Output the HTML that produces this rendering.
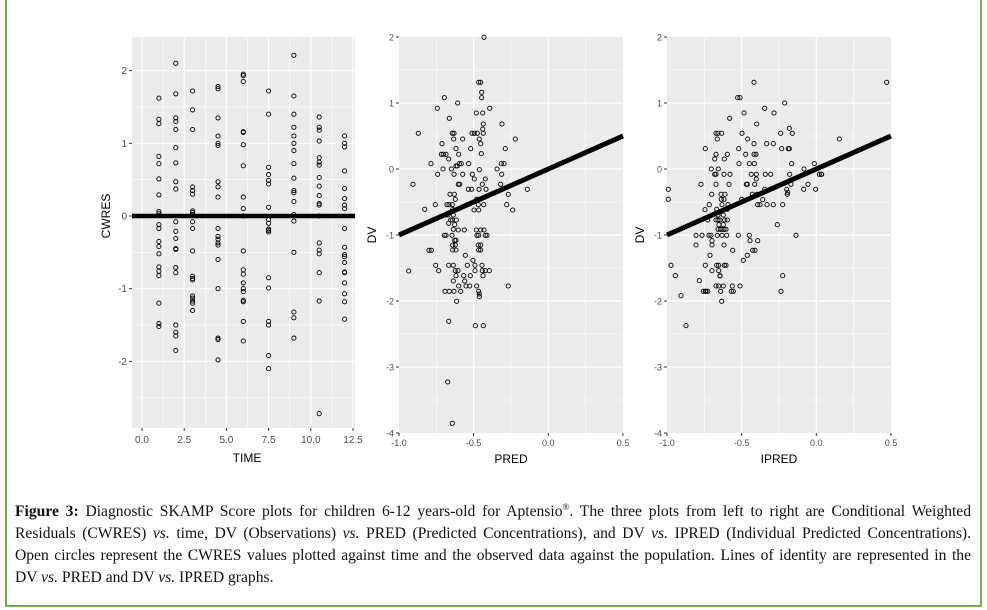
<!DOCTYPE html>
<html><head><meta charset="utf-8"><style>
body{margin:0;background:#fff;width:987px;height:610px;overflow:hidden;position:relative}
#frame{position:absolute;left:5px;top:0px;width:977px;height:607px;border:2px solid #7aab4a;border-top:none;box-sizing:border-box}
#cap{position:absolute;left:15px;top:496px;width:956px;font-family:"Liberation Serif",serif;font-size:15.6px;line-height:22px;color:#111}
#cap div{text-align:justify;text-align-last:justify;white-space:nowrap}
#cap div.l{text-align-last:left}
svg{position:absolute;left:0;top:0}
</style></head><body>
<div id="frame"></div>
<svg id="s" width="987" height="480" font-family="Liberation Sans, sans-serif"></svg>
<div id="cap">
<div><b>Figure 3:</b> Diagnostic SKAMP Score plots for children 6-12 years-old for Aptensio<sup style="font-size:9px">®</sup>. The three plots from left to right are Conditional Weighted</div>
<div>Residuals (CWRES) <i>vs.</i> time, DV (Observations) <i>vs.</i> PRED (Predicted Concentrations), and DV <i>vs.</i> IPRED (Individual Predicted Concentrations).</div>
<div>Open circles represent the CWRES values plotted against time and the observed data against the population. Lines of identity are represented in the</div>
<div class="l">DV <i>vs.</i> PRED and DV <i>vs.</i> IPRED graphs.</div>
</div>
<script>
var s=document.getElementById('s'),h='';
function R(x,y,w,hh,f){h+='<rect x="'+x+'" y="'+y+'" width="'+w+'" height="'+hh+'" fill="'+f+'"/>';}
function L(x1,y1,x2,y2,c,w){h+='<line x1="'+x1+'" y1="'+y1+'" x2="'+x2+'" y2="'+y2+'" stroke="'+c+'" stroke-width="'+w+'"/>';}
function T(x,y,t,a,sz,c,rot){h+='<text x="'+x+'" y="'+y+'" text-anchor="'+a+'" font-size="'+sz+'" fill="'+c+'"'+(rot?' transform="rotate(-90 '+x+' '+y+')"':'')+'>'+t+'</text>';}
function C(x,y){h+='<circle cx="'+x.toFixed(1)+'" cy="'+y.toFixed(1)+'" r="2.1" fill="none" stroke="#000" stroke-width="0.9"/>';}
var X1=function(t){return 142+16.88*t},Y1=function(v){return 216-72.7*v};
R(132,37,223,391,'#ebebeb');
for(var t=-1.25;t<=13;t+=1.25){var x=X1(t);if(x>132&&x<355)L(x,37,x,428,'#fff',(Math.abs(t/2.5-Math.round(t/2.5))<0.01)?1.2:0.6);}
for(var v=-2.5;v<=2.5;v+=0.5){var y=Y1(v);if(y>37&&y<428)L(132,y,355,y,'#fff',(v%1==0)?1.2:0.6);}
[-2,-1,0,1,2].forEach(function(v){T(127,Y1(v)+3.5,v,'end',10,'#4d4d4d');L(129,Y1(v),132,Y1(v),'#333',1);});
['0.0','2.5','5.0','7.5','10.0','12.5'].forEach(function(l,i){var x=X1(i*2.5);T(x,443,l,'middle',10,'#4d4d4d');L(x,428,x,431,'#333',1);});
T(247,462,'TIME','middle',12,'#000');T(110,216,'CWRES','middle',12,'#000',1);
var d1={1:[1.62,1.33,1.27,0.82,0.72,0.51,0.29,0.06,0.03,-0.12,-0.17,-0.35,-0.42,-0.52,-0.7,-0.76,-0.82,-1.2,-1.48,-1.52],
2:[2.1,1.68,1.35,1.3,1.19,0.94,0.73,0.47,0.37,-0.08,-0.21,-0.31,-0.45,-0.46,-0.71,-0.78,-1.5,-1.6,-1.65,-1.85],
3:[1.72,1.46,1.19,0.4,0.35,0.3,0.07,0.05,0.02,-0.08,-0.17,-0.48,-0.83,-0.86,-0.88,-1.1,-1.13,-1.17,-1.2,-1.3],
4.5:[1.78,1.75,1.35,1.1,1.0,0.97,0.47,0.4,0.26,-0.17,-0.28,-0.32,-0.37,-0.4,-0.6,-1.0,-1.68,-1.7,-1.98],
6:[1.95,1.93,1.85,1.16,1.15,0.98,0.69,0.26,0.1,0,-0.48,-0.74,-0.8,-0.92,-1.0,-1.04,-1.16,-1.18,-1.45,-1.72],
7.5:[1.72,1.4,0.67,0.57,0.49,0.44,0.12,-0.05,-0.1,-0.18,-0.2,-0.22,-0.85,-0.99,-1.45,-1.5,-1.92,-2.1],
9:[2.21,1.65,1.4,1.22,1.1,1.0,0.9,0.72,0.52,0.35,0.32,0.2,0.02,-0.07,-0.5,-1.32,-1.4,-1.68],
10.5:[1.36,1.22,1.18,1.03,0.8,0.74,0.7,0.53,0.41,0.28,0.17,0.15,0,-0.37,-0.47,-0.52,-0.78,-1.17,-2.72],
12:[1.1,1.0,0.95,0.62,0.38,0.24,0.15,0.1,-0.17,-0.43,-0.53,-0.56,-0.64,-0.77,-0.78,-0.92,-1.07,-1.18,-1.42]};
for(var k in d1)d1[k].forEach(function(v){C(X1(+k),Y1(v));});
L(132,216,355,216,'#000',4.5);
function panel(x0,bx,title,pts){
 var X=function(u){return x0+149.3*(u+1)},Y=function(v){return 37+66*(2-v)};
 R(x0,37,224,396,'#ebebeb');
 for(var u=-0.75;u<0.5;u+=0.25){L(X(u),37,X(u),433,'#fff',(Math.abs(u*2-Math.round(u*2))<0.01)?1.2:0.6);}
 for(var v=-3.5;v<2;v+=0.5){L(x0,Y(v),x0+224,Y(v),'#fff',(v%1==0)?1.2:0.6);}
 [-4,-3,-2,-1,0,1,2].forEach(function(v){T(x0-5,Y(v)+3.5,v,'end',9,'#4d4d4d');L(x0-3,Y(v),x0,Y(v),'#333',1);});
 ['-1.0','-0.5','0.0','0.5'].forEach(function(l,i){var x=X(-1+i*0.5);T(x,446,l,'middle',9,'#4d4d4d');L(x,433,x,436,'#333',1);});
 T(x0+112,463,title,'middle',12,'#000');T(x0-23,235,'DV','middle',12,'#000',1);
 pts.forEach(function(p){C(bx+p[0]/3,30+p[1]/3);});
 L(X(-1),Y(-1),X(0.5),Y(0.5),'#000',5);
}
var p2=[[372,22],[356,157],[362,157],[365,187],[365,203],[253,203],[232,235],[293,219],[389,235],[349,249],[368,249],[268,265],[370,282],[368,297],[175,310],[277,310],[282,310],[336,310],[343,310],[352,310],[370,310],[426,282],[281,327],[308,327],[358,327],[466,327],[246,341],[362,341],[332,356],[288,356],[436,356],[244,373],[250,373],[258,373],[296,373],[266,387],[364,371],[213,401],[298,401],[304,401],[326,401],[424,401],[432,401],[249,417],[274,417],[233,433],[282,433],[308,433],[337,433],[358,419],[411,417],[376,447],[425,433],[159,463],[295,463],[299,463],[343,447],[367,463],[292,408],[288,408],[422,463],[325,478],[335,478],[357,478],[378,478],[502,478],[270,493],[283,493],[286,508],[350,508],[360,508],[445,493],[226,524],[261,524],[267,524],[277,524],[355,524],[440,524],[371,524],[278,539],[194,538],[257,555],[264,555],[280,555],[356,540],[342,540],[458,540],[272,570],[277,570],[289,570],[266,580],[284,584],[280,598],[313,600],[295,600],[349,600],[362,600],[372,600],[253,616],[258,616],[276,616],[351,616],[356,616],[376,616],[381,616],[284,631],[288,631],[278,645],[286,645],[355,645],[362,645],[278,660],[288,660],[356,660],[362,660],[207,661],[214,661],[316,676],[266,706],[280,706],[227,706],[322,706],[339,691],[345,706],[366,706],[286,722],[294,722],[236,722],[146,723],[345,722],[367,722],[376,722],[388,722],[331,737],[369,737],[288,737],[311,737],[280,753],[314,753],[296,768],[318,768],[329,768],[350,768],[255,784],[268,784],[282,784],[302,784],[356,784],[358,792],[358,800],[445,768],[290,814],[266,874],[346,887],[370,887],[263,1056],[277,1180]];
var p3=[[770,157],[372,157],[323,203],[330,203],[464,219],[404,235],[342,249],[432,249],[299,265],[380,282],[336,310],[258,310],[264,310],[275,310],[452,310],[478,295],[487,310],[628,327],[262,327],[353,327],[410,341],[430,341],[372,341],[326,356],[226,356],[455,356],[475,356],[478,356],[347,373],[372,373],[378,373],[292,373],[254,387],[283,387],[258,373],[485,401],[358,401],[373,401],[327,401],[265,417],[244,417],[553,401],[522,417],[254,433],[258,433],[282,433],[300,433],[364,433],[379,433],[479,433],[575,433],[568,433],[574,433],[406,433],[422,433],[258,463],[349,463],[352,463],[374,463],[297,463],[379,447],[213,463],[404,478],[470,478],[483,463],[534,463],[521,478],[557,478],[115,478],[245,493],[273,493],[285,493],[367,493],[380,493],[472,493],[473,487],[115,508],[274,508],[282,508],[335,508],[238,524],[383,524],[390,524],[411,524],[430,524],[225,539],[260,538],[292,538],[294,524],[276,524],[398,509],[458,524],[264,555],[280,555],[258,570],[264,570],[270,570],[284,570],[292,570],[442,584],[267,584],[280,584],[233,570],[264,598],[271,598],[276,598],[282,598],[288,598],[243,616],[198,616],[216,616],[237,616],[262,616],[276,616],[290,616],[325,616],[358,616],[498,616],[360,632],[246,632],[246,645],[282,645],[383,632],[368,661],[375,661],[198,645],[240,676],[308,661],[340,691],[352,676],[123,706],[226,706],[260,706],[266,706],[283,706],[288,706],[246,722],[266,722],[208,752],[270,737],[226,784],[233,784],[258,768],[266,768],[272,784],[280,768],[307,768],[330,768],[304,784],[310,784],[136,737],[270,738],[228,784],[153,797],[275,814],[220,784],[458,737],[453,784],[168,887]];
panel(399,360,'PRED',p2);
panel(667,630,'IPRED',p3);
s.innerHTML=h;
</script>
</body></html>
